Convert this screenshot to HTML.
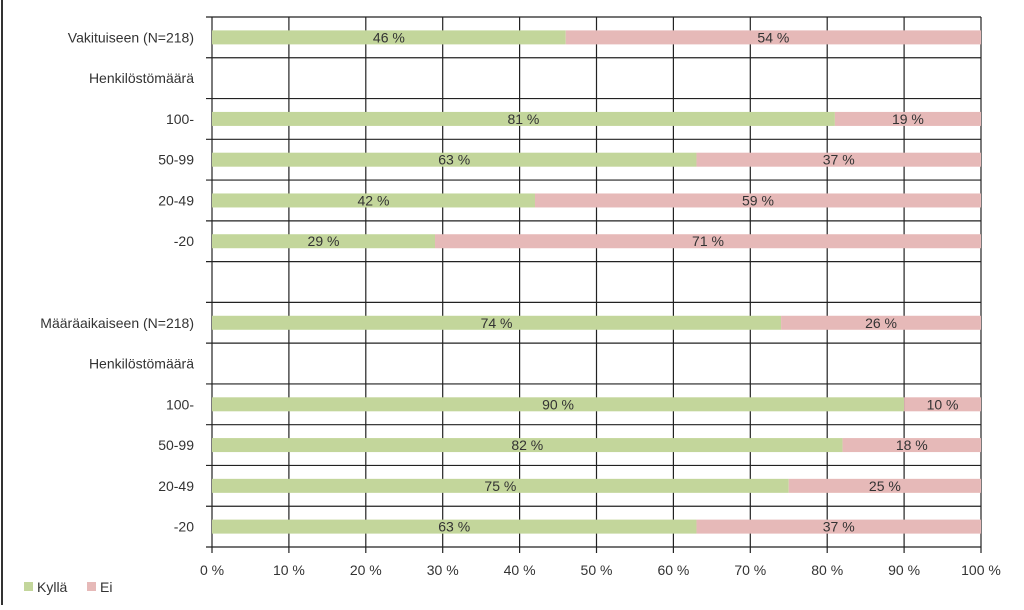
<!DOCTYPE html>
<html><head><meta charset="utf-8"><style>
body{margin:0;background:#fff;}
svg text{font-family:"Liberation Sans",sans-serif;fill:#333;}
</style></head><body>
<svg id="chart" width="1024" height="605">
<rect x="1" y="0" width="2" height="605" fill="#333"/>
<g id="grid"></g><g id="bars"></g><g id="labels"></g>
<g>
<rect x="24" y="582" width="9" height="9" fill="#c3d69b"/>
<text x="37" y="592" font-size="14">Kyllä</text>
<rect x="87" y="582" width="9" height="9" fill="#e6b9b8"/>
<text x="100" y="592" font-size="14">Ei</text>
</g>
</svg>
<script>
const categories=["Vakituiseen (N=218)","Henkilöstömäärä","100-","50-99","20-49","-20","","Määräaikaiseen (N=218)","Henkilöstömäärä","100-","50-99","20-49","-20"];
const kylla=[46,null,81,63,42,29,null,74,null,90,82,75,63];
const ei=[54,null,19,37,59,71,null,26,null,10,18,25,37];
const ticks=[0,10,20,30,40,50,60,70,80,90,100];
const NS="http://www.w3.org/2000/svg";
const x0=212,x1=981,yTop=17,yBot=547,n=categories.length,step=(yBot-yTop)/n;
const xs=v=>x0+(x1-x0)*v/100;
const yc=i=>yTop+step*(i+0.5);
function mk(t,a,p){const e=document.createElementNS(NS,t);for(const k in a)e.setAttribute(k,a[k]);p.appendChild(e);return e;}
const grid=document.getElementById('grid'),bars=document.getElementById('bars'),labels=document.getElementById('labels');
ticks.forEach((t)=>{
 const l=mk('line',{x1:xs(t),x2:xs(t),y1:yTop,y2:yBot+6,stroke:'#222','stroke-width':1.2},grid);
 
 
 const tx=mk('text',{x:xs(t),y:575,'font-size':14,'text-anchor':'middle'},labels);
 tx.textContent=t+' %';
 
 
});
for(let i=0;i<=n;i++){
 const l=mk('line',{x1:x0-6,x2:x1,y1:yTop+step*i,y2:yTop+step*i,stroke:'#222','stroke-width':1.2},grid);
 
 
}
categories.forEach((c,i)=>{
 const y=yc(i);
 const tx=mk('text',{x:194,y:y+5,'font-size':14,'text-anchor':'end'},labels);
 tx.textContent=c;
 
 
 if(kylla[i]==null)return;
 const k=kylla[i],e=ei[i];
 const r1=mk('rect',{x:xs(0),y:y-7,width:xs(k)-xs(0),height:14,fill:'#c3d69b'},bars);
 
 
 const r2=mk('rect',{x:xs(k),y:y-7,width:xs(Math.min(100,k+e))-xs(k),height:14,fill:'#e6b9b8'},bars);
 
 
 const t1=mk('text',{x:xs(k/2),y:y+5,'font-size':14,'text-anchor':'middle'},labels);
 t1.textContent=k+' %';
 
 
 const t2=mk('text',{x:xs(k+(100-k)/2),y:y+5,'font-size':14,'text-anchor':'middle'},labels);
 t2.textContent=e+' %';
 
 
});
</script>
</body></html>
